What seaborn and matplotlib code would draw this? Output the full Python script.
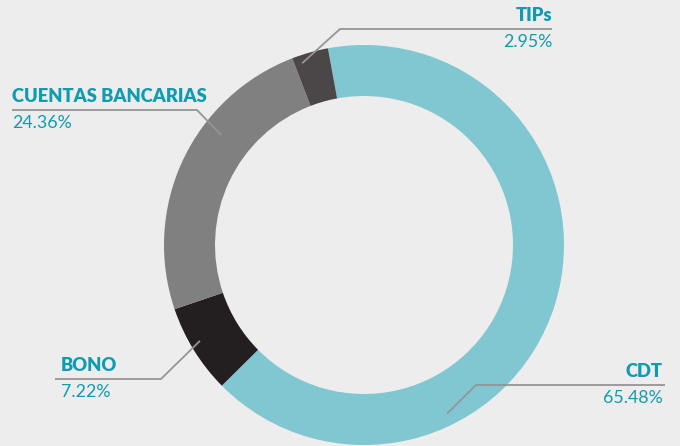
import numpy as np
import matplotlib
matplotlib.use("Agg")
import matplotlib.pyplot as plt
import seaborn as sns

# Portfolio composition
categories = ["CDT", "BONO", "CUENTAS BANCARIAS", "TIPs"]
shares = [65.48, 7.22, 24.36, 2.95]
value_labels = ["65.48%", "7.22%", "24.36%", "2.95%"]
colors = ["#80c7d2", "#231f20", "#808080", "#4b4647"]

BG = "#ededed"
TEXT = "#0f9cb0"
LINE = "#959595"

sns.set_theme(style="white")
plt.rcParams["font.family"] = ["Lato", "DejaVu Sans"]

fig = plt.figure(figsize=(6.8, 4.46), dpi=100, facecolor=BG)
ax = fig.add_axes([0, 0, 1, 1])
ax.set_facecolor(BG)

# y axis runs downward, so angles are mirrored: this draws clockwise from ~100deg
cx, cy, R = 364, 245, 200
ax.pie(shares, colors=colors, startangle=-100.4, counterclock=True,
       center=(cx, cy), radius=R,
       wedgeprops=dict(width=R * 0.255, linewidth=0))
ax.set_xlim(0, 680)
ax.set_ylim(446, 0)
ax.set_aspect("equal")
ax.axis("off")

# Leader-line geometry: (angle on ring in deg, radius, elbow, line end, text x, align)
callouts = {
    "TIPs": dict(ang=108.8, r=192, elbow=(340, 29), end=(552, 29), tx=552, ha="right"),
    "CUENTAS BANCARIAS": dict(ang=142.4, r=180, elbow=(197, 110), end=(12, 110), tx=12, ha="left"),
    "BONO": dict(ang=210.3, r=190, elbow=(161, 379), end=(55, 379), tx=61, ha="left"),
    "CDT": dict(ang=-63.8, r=188, elbow=(476, 385), end=(665, 385), tx=663, ha="right"),
}

for cat, val in zip(categories, value_labels):
    c = callouts[cat]
    a = np.deg2rad(c["ang"])
    px, py = cx + c["r"] * np.cos(a), cy - c["r"] * np.sin(a)
    ex, ey = c["elbow"]
    qx, qy = c["end"]
    ax.plot([px, ex, qx], [py, ey, qy], color=LINE, lw=1.3, solid_capstyle="butt")
    ax.text(c["tx"], ey - 5, cat, ha=c["ha"], va="bottom", color=TEXT,
            fontsize=13.2, fontweight="heavy")
    ax.text(c["tx"], ey + 5, val, ha=c["ha"], va="top", color=TEXT,
            fontsize=12.8)

fig.savefig("out.png", dpi=100, facecolor=BG)
